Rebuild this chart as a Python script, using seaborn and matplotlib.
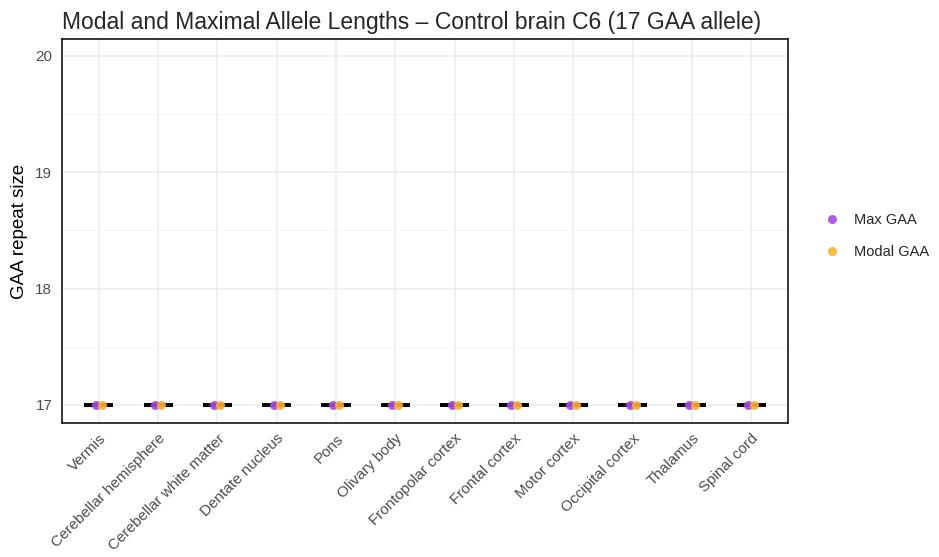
import matplotlib
matplotlib.use("Agg")
import matplotlib.pyplot as plt
import seaborn as sns
import pandas as pd
import numpy as np
from matplotlib.ticker import MultipleLocator
from matplotlib.lines import Line2D

regions = ["Vermis", "Cerebellar hemisphere", "Cerebellar white matter", "Dentate nucleus",
           "Pons", "Olivary body", "Frontopolar cortex", "Frontal cortex", "Motor cortex",
           "Occipital cortex", "Thalamus", "Spinal cord"]
max_gaa = [17, 17, 17, 17, 17, 17, 17, 17, 17, 17, 17, 17]
modal_gaa = [17, 17, 17, 17, 17, 17, 17, 17, 17, 17, 17, 17]
series = ["Max GAA", "Modal GAA"]
colors = {"Max GAA": "#A64BE3", "Modal GAA": "#FBB034"}

df = pd.DataFrame({
    "region": regions * 2,
    "value": max_gaa + modal_gaa,
    "series": [series[0]] * len(regions) + [series[1]] * len(regions),
})

sns.set_theme(style="white")
plt.rcParams['font.family'] = ['Liberation Sans', 'DejaVu Sans']

fig = plt.figure(figsize=(9.39, 5.57), dpi=100)
ax = fig.add_axes([62/939, 1-423/557, (788-62)/939, (423-39)/557])

sns.boxplot(data=df, x="region", y="value", order=regions, width=0.49,
            color="white", linecolor="black", linewidth=2.6, showfliers=False,
            showcaps=False, whis=0, ax=ax, zorder=3,
            medianprops=dict(color="black", linewidth=2.6))

offsets = {"Max GAA": -0.05, "Modal GAA": 0.05}
for s in series:
    sub = df[df["series"] == s]
    n_before = len(ax.collections)
    sns.stripplot(data=sub, x="region", y="value", order=regions, jitter=False,
                  color=colors[s], size=6.5, alpha=0.9, linewidth=0, ax=ax,
                  zorder=4, legend=False)
    for coll in ax.collections[n_before:]:
        off = coll.get_offsets()
        off[:, 0] = off[:, 0] + offsets[s]
        coll.set_offsets(off)

ax.set_ylim(16.845, 20.146)
ax.set_xlim(-0.62, len(regions) - 0.38)
ax.yaxis.set_major_locator(MultipleLocator(1))
ax.yaxis.set_minor_locator(MultipleLocator(0.5))
ax.grid(True, which="major", color="#EBEBEB", linewidth=1.1, zorder=0)
ax.grid(True, which="minor", axis="y", color="#F4F4F4", linewidth=0.6, zorder=0)
ax.set_axisbelow(True)
for sp in ax.spines.values():
    sp.set_color("black")
    sp.set_linewidth(1.1)
    sp.set_visible(True)

ax.set_xlabel("")
ax.set_ylabel("GAA repeat size", fontsize=13.5, color="black", labelpad=5)
ax.tick_params(axis="both", length=0, colors="#4D4D4D", labelsize=11, pad=7)
ax.set_xticks(range(len(regions)))
ax.set_xticklabels(regions, rotation=45, ha="right", rotation_mode="anchor")
ax.tick_params(axis="x", pad=6)
ax.set_title("Modal and Maximal Allele Lengths \u2013 Control brain C6 (17 GAA allele)",
             fontsize=16.5, loc="left", x=-0.0, pad=7)

handles = [Line2D([], [], marker="o", linestyle="", markersize=6.5,
                  markerfacecolor=colors[s], markeredgewidth=0, alpha=0.9) for s in series]
fig.legend(handles, series, loc="center left", bbox_to_anchor=(810/939, 1-236/557),
           frameon=False, fontsize=10.5, handletextpad=0.9, labelspacing=1.2,
           handlelength=1.2)

fig.savefig("out.png", dpi=100)
